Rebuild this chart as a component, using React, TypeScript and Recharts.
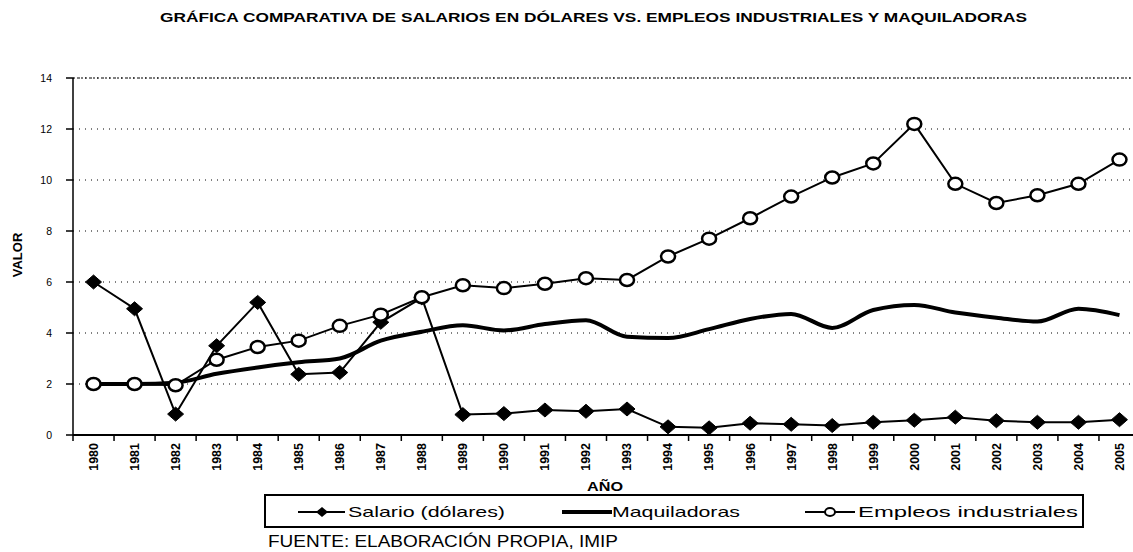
import React from 'react';
import { LineChart, Line, XAxis, YAxis, CartesianGrid, ReferenceLine } from 'recharts';

// ---------- data ----------
const years = [
  '1980', '1981', '1982', '1983', '1984', '1985', '1986', '1987', '1988', '1989',
  '1990', '1991', '1992', '1993', '1994', '1995', '1996', '1997', '1998', '1999',
  '2000', '2001', '2002', '2003', '2004', '2005',
];
const salario = [
  6.0, 4.95, 0.82, 3.5, 5.2, 2.38, 2.45, 4.42, 5.38, 0.8,
  0.84, 0.98, 0.93, 1.02, 0.32, 0.28, 0.46, 0.42, 0.37, 0.5,
  0.58, 0.7, 0.56, 0.5, 0.5, 0.6,
];
const maquiladoras = [
  2.0, 2.0, 2.05, 2.4, 2.65, 2.85, 3.0, 3.7, 4.05, 4.3,
  4.1, 4.35, 4.5, 3.85, 3.8, 4.15, 4.55, 4.75, 4.2, 4.9,
  5.1, 4.8, 4.6, 4.45, 4.95, 4.7,
];
const empleos = [
  2.0, 2.0, 1.95, 2.95, 3.45, 3.7, 4.28, 4.72, 5.4, 5.87,
  5.76, 5.93, 6.15, 6.08, 7.0, 7.7, 8.5, 9.35, 10.1, 10.65,
  12.2, 9.85, 9.1, 9.4, 9.85, 10.8,
];
const yTicks = [0, 2, 4, 6, 8, 10, 12, 14];

const NAME_SALARIO = 'Salario (dólares)';
const NAME_MAQ = 'Maquiladoras';
const NAME_EMP = 'Empleos industriales';
const TITLE = 'GRÁFICA COMPARATIVA DE SALARIOS EN DÓLARES VS.  EMPLEOS INDUSTRIALES Y MAQUILADORAS';
const Y_LABEL = 'VALOR';
const X_LABEL = 'AÑO';
const SOURCE = 'FUENTE: ELABORACIÓN PROPIA, IMIP';

const data = years.map((year, i) => ({
  year,
  salario: salario[i],
  maq: maquiladoras[i],
  emp: empleos[i],
}));

// ---------- layout ----------
const CHART_W = 1150;
const CHART_H = 552;
const MARGIN = { top: 78, right: 10, bottom: 67, left: 13 };
const YAXIS_W = 60;
const PLOT_L = MARGIN.left + YAXIS_W;
const PLOT_R = CHART_W - MARGIN.right;
const BAND = (PLOT_R - PLOT_L) / years.length;
const FONT = '"Liberation Sans", Arial, sans-serif';

const XTick = (props: any) => {
  const { x, y, payload } = props;
  return (
    <g>
      <line x1={x - BAND / 2} x2={x - BAND / 2} y1={y} y2={y + 6} stroke="#000" strokeWidth={1.5} />
      <text
        transform={`translate(${x},${y + 8}) rotate(-90)`}
        textAnchor="end"
        dy="0.35em"
        fontSize={12.5}
        fontWeight="bold"
        fontFamily={FONT}
        fill="#000"
      >
        {payload.value}
      </text>
    </g>
  );
};

const Diamond = (props: any) => {
  const { cx, cy } = props;
  if (cx == null || cy == null) return null;
  return (
    <polygon
      points={`${cx},${cy - 7} ${cx + 8},${cy} ${cx},${cy + 7} ${cx - 8},${cy}`}
      fill="#000"
      stroke="#000"
      strokeWidth={1}
    />
  );
};

const Ring = (props: any) => {
  const { cx, cy } = props;
  if (cx == null || cy == null) return null;
  return <ellipse cx={cx} cy={cy} rx={7} ry={6} fill="#fff" stroke="#000" strokeWidth={2.5} />;
};

export default function App() {
  return (
    <div
      style={{
        position: 'absolute',
        left: 0,
        top: 0,
        width: 1133,
        height: 552,
        overflow: 'hidden',
        background: '#fff',
      }}
    >
      <div style={{ position: 'absolute', left: 0, top: 0 }}>
        <LineChart width={CHART_W} height={CHART_H} data={data} margin={MARGIN}>
          <CartesianGrid vertical={false} stroke="#000" strokeDasharray="1 5" strokeWidth={1} />
          <ReferenceLine y={14} stroke="#000" strokeDasharray="2 2" strokeWidth={1} />
          <XAxis
            dataKey="year"
            interval={0}
            height={50}
            padding={{ left: BAND / 2, right: BAND / 2 }}
            tickSize={0}
            tickMargin={0}
            tickLine={false}
            axisLine={{ stroke: '#000', strokeWidth: 2 }}
            tick={<XTick />}
          />
          <YAxis
            width={YAXIS_W}
            domain={[0, 14]}
            ticks={yTicks}
            interval={0}
            tickSize={7}
            tickMargin={14}
            axisLine={{ stroke: '#000', strokeWidth: 1.5 }}
            tickLine={{ stroke: '#000', strokeWidth: 1.5 }}
            tick={{ fontSize: 10.5, fill: '#000', fontFamily: FONT }}
          />
          <Line
            name={NAME_MAQ}
            dataKey="maq"
            type="monotone"
            stroke="#000"
            strokeWidth={4}
            dot={false}
            activeDot={false}
            isAnimationActive={false}
          />
          <Line
            name={NAME_SALARIO}
            dataKey="salario"
            type="linear"
            stroke="#000"
            strokeWidth={2}
            dot={<Diamond />}
            activeDot={false}
            isAnimationActive={false}
          />
          <Line
            name={NAME_EMP}
            dataKey="emp"
            type="linear"
            stroke="#000"
            strokeWidth={2}
            dot={<Ring />}
            activeDot={false}
            isAnimationActive={false}
          />
        </LineChart>
      </div>
      <svg
        width={1133}
        height={552}
        style={{ position: 'absolute', left: 0, top: 0, pointerEvents: 'none' }}
        fontFamily={FONT}
      >
        <text x={160} y={22} fontSize={13} fontWeight="bold" textLength={867} lengthAdjust="spacingAndGlyphs" fill="#000"
          style={{ fontFamily: '"Liberation Sans Narrow", "Liberation Sans", Arial, sans-serif' }}>
          {TITLE}
        </text>
        <text
          transform="translate(22,255) rotate(-90)"
          textAnchor="middle"
          fontSize={13}
          fontWeight="bold"
          fill="#000"
        >
          {Y_LABEL}
        </text>
        <text x={605} y={491} textAnchor="middle" fontSize={12} fontWeight="bold" textLength={36} lengthAdjust="spacingAndGlyphs" fill="#000">
          {X_LABEL}
        </text>
        {/* legend */}
        <rect x={265} y={495} width={818} height={32} fill="#fff" stroke="#000" strokeWidth={2} />
        <line x1={298} x2={345} y1={512} y2={512} stroke="#000" strokeWidth={2} />
        <polygon points="322,507 328,512 322,517 316,512" fill="#000" />
        <text x={348} y={517} fontSize={15} textLength={157} lengthAdjust="spacingAndGlyphs" fill="#000">{NAME_SALARIO}</text>
        <line x1={562} x2={612} y1={512} y2={512} stroke="#000" strokeWidth={4} />
        <text x={612} y={517} fontSize={15} textLength={128} lengthAdjust="spacingAndGlyphs" fill="#000">{NAME_MAQ}</text>
        <line x1={805} x2={855} y1={512} y2={512} stroke="#000" strokeWidth={2} />
        <ellipse cx={830} cy={512} rx={5} ry={4} fill="#fff" stroke="#000" strokeWidth={2} />
        <text x={858} y={517} fontSize={15} textLength={220} lengthAdjust="spacingAndGlyphs" fill="#000">{NAME_EMP}</text>
        <text x={268} y={547} fontSize={16} textLength={350} lengthAdjust="spacingAndGlyphs" fill="#000">{SOURCE}</text>
      </svg>
    </div>
  );
}
